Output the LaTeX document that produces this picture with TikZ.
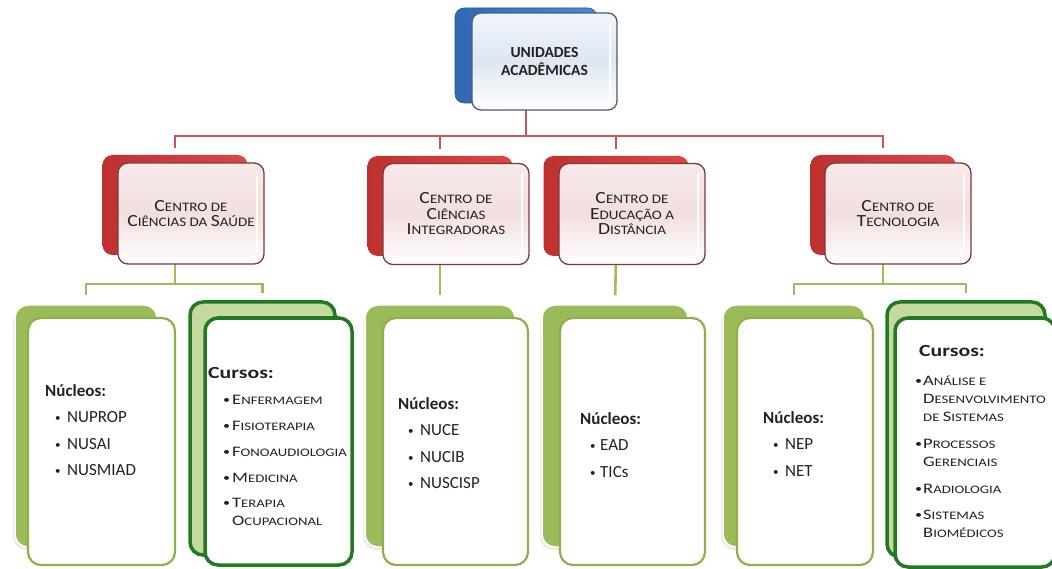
\documentclass[tikz,border=0pt]{standalone}
\usepackage{fontspec}
\setmainfont{Carlito}
\usetikzlibrary{backgrounds,shadows}
\definecolor{redback}{HTML}{DE4545}
\definecolor{redbackdark}{HTML}{BE3131}
\definecolor{redconn}{HTML}{C9545A}
\definecolor{redborder}{HTML}{7A3A38}
\definecolor{pinkfill}{HTML}{F2DEDE}
\definecolor{pinklight}{HTML}{F7EAEA}
\definecolor{blueback}{HTML}{4C8AD6}
\definecolor{bluebackdark}{HTML}{3267B2}
\definecolor{blueborder}{HTML}{4C5A6C}
\definecolor{bluefill}{HTML}{DDE6F1}
\definecolor{bluelight}{HTML}{F1F5FA}
\definecolor{olive}{HTML}{9BBB59}
\definecolor{oliveborder}{HTML}{8DB04C}
\definecolor{greenconn}{HTML}{9EBE5E}
\definecolor{darkgreen}{HTML}{217A21}
\definecolor{lightgreen}{HTML}{C5D99E}
\definecolor{txt}{HTML}{222222}
\newcommand\Cp[1]{{\fontsize{17pt}{15pt}\selectfont #1}}
\newcommand\Ci[1]{{\fontsize{14.5pt}{15pt}\selectfont #1}}
\newcommand\bdot{\raisebox{1pt}{\fontsize{11pt}{11pt}\selectfont •}}
\newcommand\itm[2]{\hspace*{#1}\makebox[#2][l]{\bdot}}
\begin{document}
\begin{tikzpicture}[x=1pt,y=-1pt,
  gloss/.style={path picture={
    \draw[white, line width=2.5pt, opacity=0.85, line cap=round]
      ([xshift=-7pt,yshift=-11pt]path picture bounding box.north east) --
      ([xshift=-7pt,yshift=13pt]path picture bounding box.south east);}},
  topback/.style={rectangle, rounded corners=9pt, inner sep=0pt,
    left color=bluebackdark, right color=blueback, draw=bluebackdark!85!black, line width=0.6pt,
    minimum width=142pt, minimum height=95pt},
  topfront/.style={rectangle, rounded corners=9pt, inner sep=0pt, align=center,
    top color=bluelight, bottom color=white, middle color=bluefill, draw=blueborder, line width=1.3pt,
    minimum width=145pt, minimum height=97pt, text=txt, gloss,
    font=\fontsize{15.5pt}{18pt}\selectfont\bfseries},
  redbackbox/.style={rectangle, rounded corners=10pt, inner sep=0pt,
    left color=redbackdark, right color=redback,
    minimum width=145pt, minimum height=100pt},
  redfrontbox/.style={rectangle, rounded corners=10pt, inner sep=0pt, align=center,
    top color=pinklight, bottom color=white, middle color=pinkfill,
    draw=redborder, line width=1.3pt, gloss,
    minimum width=146pt, minimum height=101pt, text=txt,
    font=\addfontfeature{FakeStretch=1.16}\fontsize{13pt}{15.5pt}\selectfont},
  nback/.style={rectangle, rounded corners=13pt, inner sep=0pt,
    fill=olive, draw=white, line width=1.5pt,
    drop shadow={shadow xshift=-2pt, shadow yshift=-3pt, fill=black!15}},
  nfront/.style={rectangle, rounded corners=13pt, inner sep=0pt,
    fill=white, draw=oliveborder, line width=2.2pt},
  cback/.style={rectangle, rounded corners=13pt, inner sep=0pt,
    fill=lightgreen, draw=darkgreen, line width=3.5pt},
  cfront/.style={rectangle, rounded corners=13pt, inner sep=0pt,
    fill=white, draw=darkgreen, line width=3.5pt},
  ntext/.style={anchor=west, align=left, inner sep=0pt, text=txt,
    font=\fontsize{17pt}{26.5pt}\selectfont},
  ctext/.style={anchor=west, align=left, inner sep=0pt, text=txt,
    font=\addfontfeature{FakeStretch=1.28}\fontsize{11.5pt}{18pt}\selectfont},
  rline/.style={draw=redconn, line width=2.2pt},
  gline/.style={draw=greenconn, line width=2.6pt}
]
\useasboundingbox (0,0) rectangle (1052,569);

% ---- top
\node[topback] (tb) at (526,55.5) {};
\node[topfront] (tf) at (544.5,61.5) {UNIDADES\\ACADÊMICAS};

% ---- centres
\node[redbackbox] (c1b) at (175,205) {};
\node[redfrontbox] (c1f) at (191,213.5) {\Cp{C}ENTRO DE\\\Cp{C}IÊNCIAS DA \Cp{S}AÚDE};
\node[redbackbox] (c2b) at (440,206) {};
\node[redfrontbox] (c2f) at (456,214) {\Cp{C}ENTRO DE\\\Cp{C}IÊNCIAS\\\Cp{I}NTEGRADORAS};
\node[redbackbox] (c3b) at (616,206) {};
\node[redfrontbox] (c3f) at (632,214) {\Cp{C}ENTRO DE\\\Cp{E}DUCAÇÃO A\\\Cp{D}ISTÂNCIA};
\node[redbackbox] (c4b) at (883,205) {};
\node[redfrontbox] (c4f) at (898,213.5) {\Cp{C}ENTRO DE\\\Cp{T}ECNOLOGIA};

% ---- bottom boxes
\node[nback, minimum width=142pt, minimum height=242pt] (ab) at (86,426) {};
\node[nfront, minimum width=147pt, minimum height=247pt] (af) at (101.5,441.5) {};
\node[cback, minimum width=145pt, minimum height=253pt] (bb) at (262.5,428.5) {};
\node[cfront, minimum width=147pt, minimum height=247pt] (bf) at (278.5,441.5) {};
\node[nback, minimum width=150pt, minimum height=242pt] (cb) at (440,426) {};
\node[nfront, minimum width=145pt, minimum height=247pt] (cf) at (455.5,441.5) {};
\node[nback, minimum width=146pt, minimum height=242pt] (db) at (615,426) {};
\node[nfront, minimum width=145pt, minimum height=247pt] (df) at (632.5,441.5) {};
\node[nback, minimum width=142pt, minimum height=242pt] (eb) at (794,426) {};
\node[nfront, minimum width=136pt, minimum height=247pt] (ef) at (805,441.5) {};
\node[cback, minimum width=158pt, minimum height=255pt] (fb) at (966,429.5) {};
\node[cfront, minimum width=160pt, minimum height=249pt] (ff) at (975,442.5) {};

% ---- texts
\node[ntext] (at) at (45,430) {\textbf{Núcleos:}\\\itm{10pt}{12pt}NUPROP\\\itm{10pt}{12pt}NUSAI\\\itm{10pt}{12pt}NUSMIAD};
\node[ctext] (bt) at (208,446) {{\fontsize{17pt}{18pt}\selectfont\bfseries Cursos:}\\[8pt]
\itm{15pt}{9pt}\Ci{E}NFERMAGEM\\[8pt]
\itm{15pt}{9pt}\Ci{F}ISIOTERAPIA\\[8pt]
\itm{15pt}{9pt}\Ci{F}ONOAUDIOLOGIA\\[8pt]
\itm{15pt}{9pt}\Ci{M}EDICINA\\[7pt]
\itm{15pt}{9pt}\Ci{T}ERAPIA\\
\hspace*{24pt}\Ci{O}CUPACIONAL};
\node[ntext] (ct) at (398,443) {\textbf{Núcleos:}\\\itm{10pt}{12pt}NUCE\\\itm{10pt}{12pt}NUCIB\\\itm{10pt}{12pt}NUSCISP};
\node[ntext] (dt) at (580,445) {\textbf{Núcleos:}\\\itm{10pt}{10pt}EAD\\\itm{10pt}{10pt}TICs};
\node[ntext] (et) at (763,444) {\textbf{Núcleos:}\\\itm{10pt}{12pt}NEP\\\itm{10pt}{12pt}NET};
\node[ctext] (ft) at (915,441) {\hspace*{4pt}{\fontsize{17pt}{18pt}\selectfont\bfseries Cursos:}\\[11pt]
\itm{0pt}{8pt}\Ci{A}NÁLISE E\\
\hspace*{8pt}\Ci{D}ESENVOLVIMENTO\\
\hspace*{8pt}DE \Ci{S}ISTEMAS\\[9pt]
\itm{0pt}{8pt}\Ci{P}ROCESSOS\\
\hspace*{8pt}\Ci{G}ERENCIAIS\\[9pt]
\itm{0pt}{8pt}\Ci{R}ADIOLOGIA\\[8pt]
\itm{0pt}{8pt}\Ci{S}ISTEMAS\\
\hspace*{8pt}\Ci{B}IOMÉDICOS};

% ---- connectors
\begin{scope}[on background layer]
\coordinate (rbus) at (0,136);
\draw[rline, shorten >=7pt] (tb.south) -- (tb.south |- rbus) -| (c1b.north);
\draw[rline, shorten >=7pt] (tb.south) -- (tb.south |- rbus) -| (c2b.north);
\draw[rline, shorten >=7pt] (tb.south) -- (tb.south |- rbus) -| (c3b.north);
\draw[rline, shorten >=7pt] (tb.south) -- (tb.south |- rbus) -| (c4b.north);
\coordinate (gbus) at (0,284);
\draw[gline, shorten >=9pt] (c1b.south) -- (c1b.south |- gbus) -| (ab.north);
\draw[gline, shorten >=7pt] (c1b.south) -- (c1b.south |- gbus) -| (bb.north);
\draw[gline, shorten >=9pt] (c2b.south) -- (cb.north);
\draw[gline, shorten >=9pt] (c3b.south) -- (db.north);
\draw[gline, shorten >=9pt] (c4b.south) -- (c4b.south |- gbus) -| (eb.north);
\draw[gline, shorten >=7pt] (c4b.south) -- (c4b.south |- gbus) -| (fb.north);
\end{scope}
\end{tikzpicture}
\end{document}
